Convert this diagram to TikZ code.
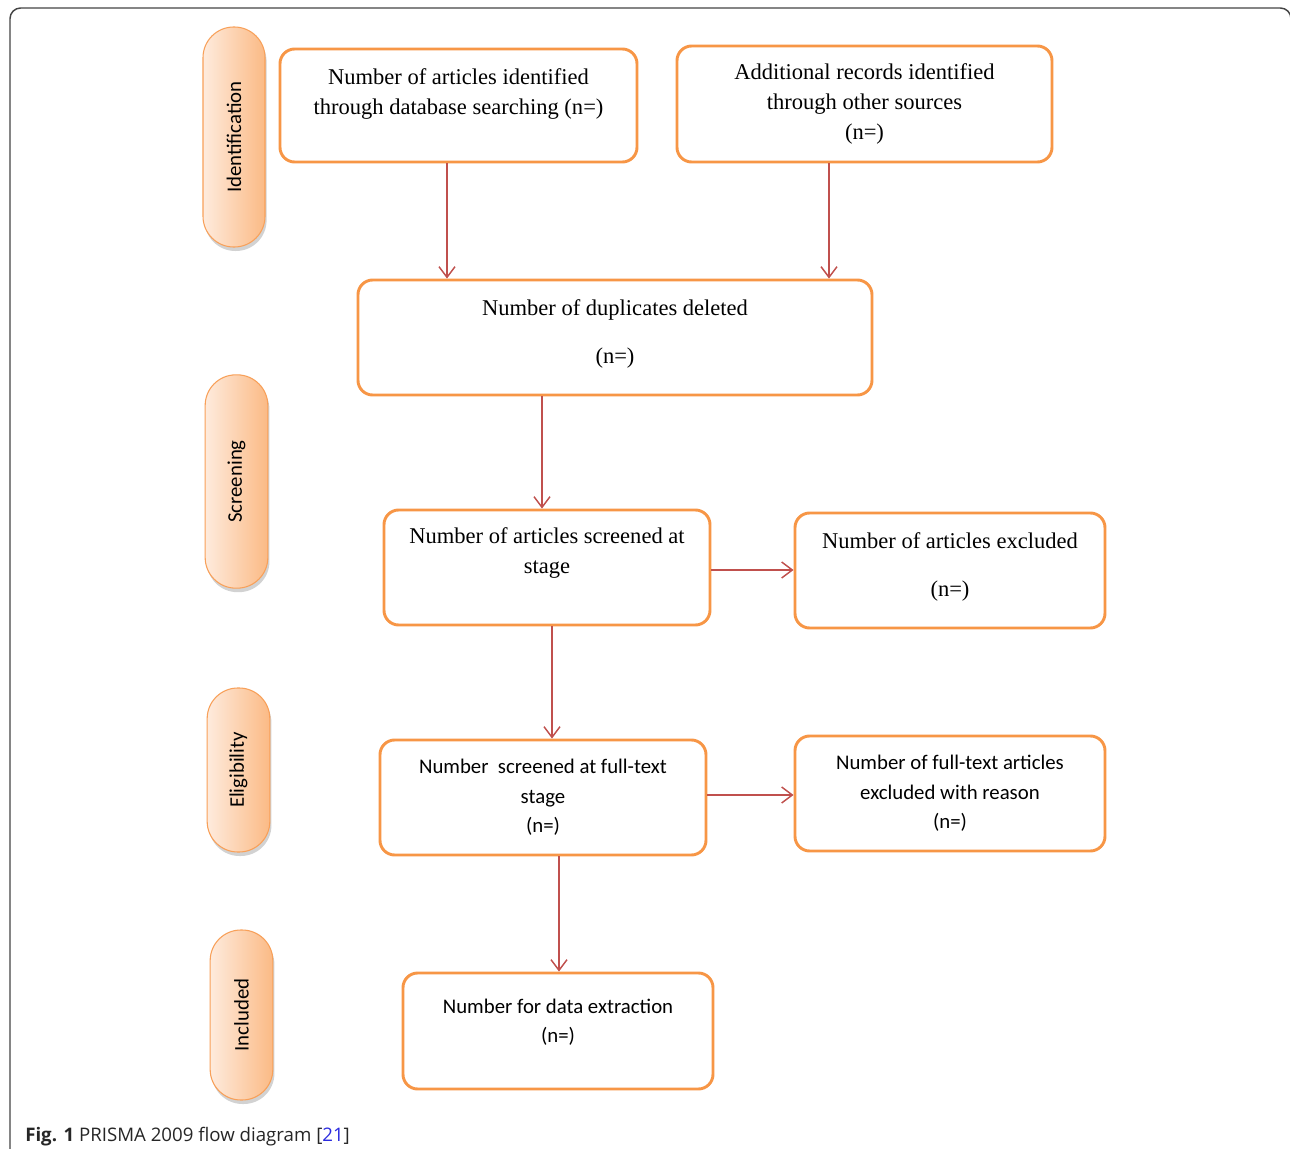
\documentclass[tikz,border=0pt]{standalone}
\usepackage{fontspec}
\setmainfont{Liberation Serif}
\newfontfamily\calib{Carlito}
\newfontfamily\capfont{Open Sans}
\usetikzlibrary{arrows.meta,shadows,positioning}
\definecolor{boxorange}{HTML}{F79646}
\definecolor{arrowred}{HTML}{C0504D}
\definecolor{pillleft}{HTML}{FEEBDD}
\definecolor{pillright}{HTML}{FBBA85}
\definecolor{framegray}{HTML}{444444}
\definecolor{refblue}{HTML}{2B2BE0}
\tikzset{
  flowbox/.style={draw=boxorange, line width=2.2pt, rounded corners=11pt, align=center, fill=white, inner sep=0pt},
  serifbox/.style={flowbox, font=\fontsize{16.9}{22.5}\selectfont},
  sansbox/.style={flowbox, font=\calib\fontsize{15.6}{22}\selectfont},
  pill/.style={draw=boxorange!90, line width=0.8pt, rounded corners=23pt, left color=pillleft, right color=pillright,
    drop shadow={opacity=0.35, shadow xshift=1.2pt, shadow yshift=-3pt}},
  pilltext/.style={rotate=90, font=\calib\fontsize{15.6}{17}\selectfont},
  flowarrow/.style={draw=arrowred, line width=1.1pt, -{Straight Barb[length=8pt,width=12pt,line width=1.1pt]}}
}
\begin{document}
\begin{tikzpicture}[x=0.75pt,y=-0.75pt]
\useasboundingbox (0,0) rectangle (1290,1149);
\fill[white] (0,0) rectangle (1290,1149);
% frame
\draw[framegray, line width=1.1pt, rounded corners=8pt] (10,1170) -- (10,8) -- (1291,8) -- (1291,1170);

% side pills
\node[pill, minimum width=46.5pt, minimum height=165pt] (p1) at (234,137) {};
\node[pilltext] (t1) at (p1.center) {Identification};
\node[pill, minimum width=47pt, minimum height=160pt] (p2) at (236.5,481.5) {};
\node[pilltext] (t2) at (p2.center) {Screening};
\node[pill, minimum width=47pt, minimum height=123pt] (p3) at (238.5,770) {};
\node[pilltext] (t3) at (p3.center) {Eligibility};
\node[pill, minimum width=47pt, minimum height=127.5pt] (p4) at (241.5,1015) {};
\node[pilltext] (t4) at (p4.center) {Included};

% boxes
\node[serifbox, minimum width=267.75pt, minimum height=84.75pt] (b1) at (458.5,105.5)
  {Number of articles identified\\through database searching (n=)\\[-8pt]\strut};
\node[serifbox, minimum width=281.25pt, minimum height=87pt] (b2) at (864.5,104)
  {Additional records identified\\through other sources\\(n=)};
\node[serifbox, minimum width=385.5pt, minimum height=86.25pt] (b3) at (615,337.5)
  {Number of duplicates deleted\\[13.5pt](n=)\\[-21pt]\strut};
\node[serifbox, minimum width=244.5pt, minimum height=86.25pt] (b4) at (547,567.5)
  {Number of articles screened at\\stage\\[-4pt]\strut};
\node[serifbox, minimum width=232.5pt, minimum height=86.25pt] (b5) at (950,570.5)
  {Number of articles excluded\\[14pt](n=)\\[-20.5pt]\strut};
\node[sansbox, minimum width=244.5pt, minimum height=86.25pt] (b6) at (543,797.5)
  {Number\ \ screened at full-text\\stage\\(n=)};
\node[sansbox, minimum width=232.5pt, minimum height=86.25pt] (b7) at (950,793.5)
  {Number of full-text articles\\excluded with reason\\(n=)};
\node[sansbox, minimum width=232.5pt, minimum height=87pt] (b8) at (558,1031)
  {Number for data extraction\\(n=)\\[-13pt]\strut};

% arrows
\draw[flowarrow] (b1.south -| 447,0) -- (b3.north -| 447,0);
\draw[flowarrow] (b2.south -| 829,0) -- (b3.north -| 829,0);
\draw[flowarrow] (b3.south -| 542,0) -- (b4.north -| 542,0);
\draw[flowarrow] (b4.east |- 0,570) -- (b5.west |- 0,570);
\draw[flowarrow] (b4.south -| 552,0) -- (b6.north -| 552,0);
\draw[flowarrow] (b6.east |- 0,795) -- (b7.west |- 0,795);
\draw[flowarrow] (b6.south -| 559,0) -- (b8.north -| 559,0);

% caption
\node[anchor=base west, inner sep=0pt, text=black!85, font=\capfont\fontsize{14}{16}\selectfont] (cap) at (25,1141)
  {\textbf{Fig. 1} PRISMA 2009 flow diagram [\textcolor{refblue}{21}]};
\end{tikzpicture}
\end{document}
